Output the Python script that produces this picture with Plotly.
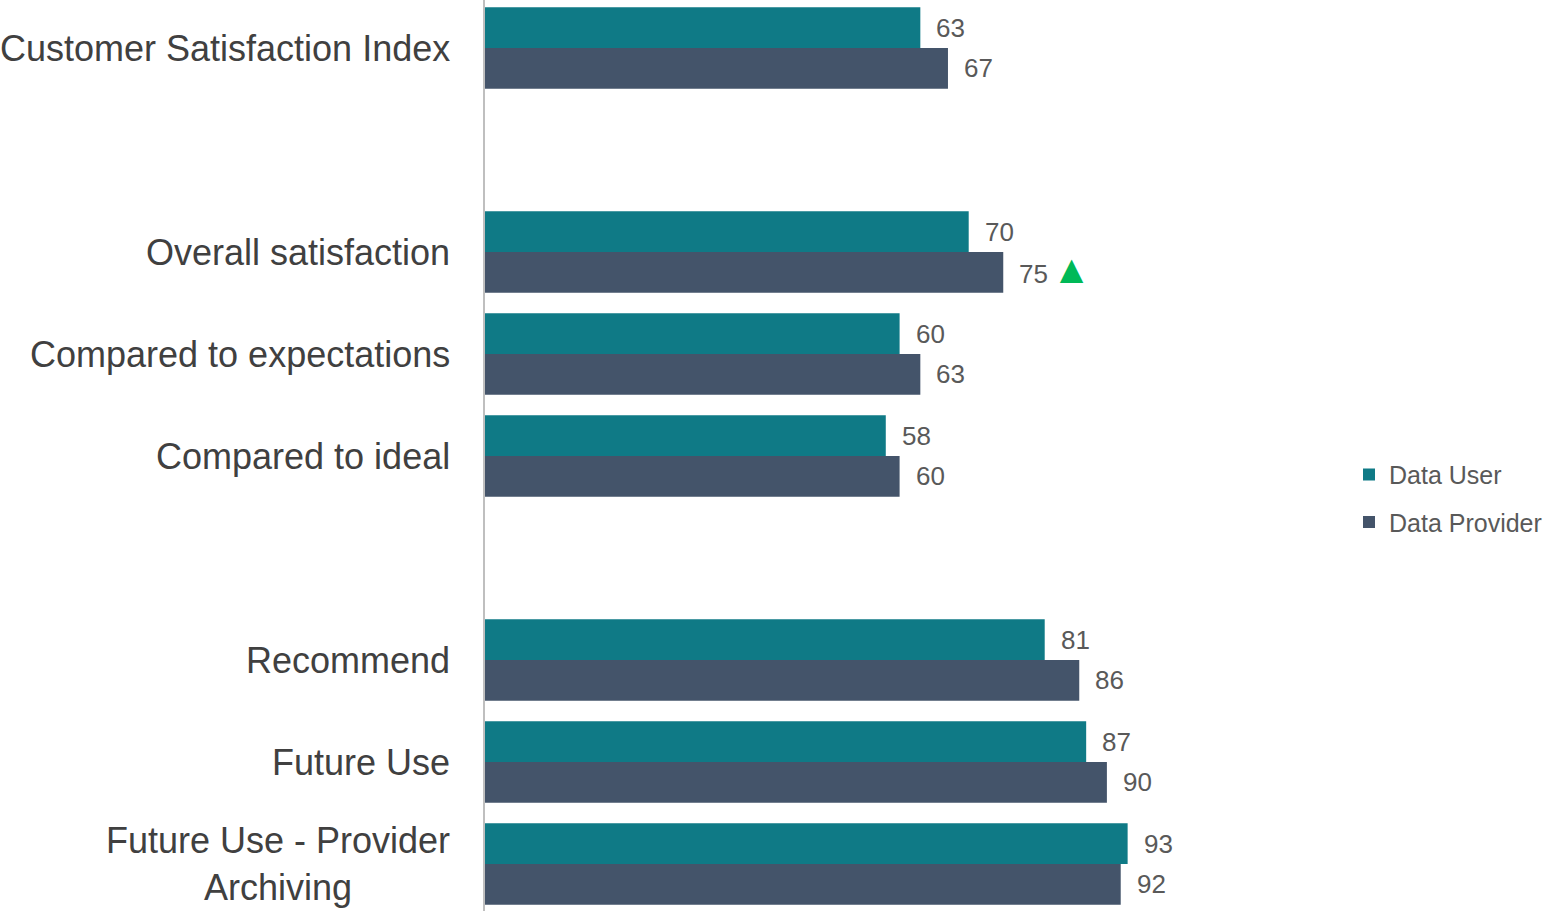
import plotly.graph_objects as go

categories = ["Customer Satisfaction Index", " ", "Overall satisfaction",
              "Compared to expectations", "Compared to ideal", "  ",
              "Recommend", "Future Use", "Future Use - Provider<br>Archiving"]
bar_categories = ["Customer Satisfaction Index", "Overall satisfaction",
                  "Compared to expectations", "Compared to ideal",
                  "Recommend", "Future Use", "Future Use - Provider<br>Archiving"]
data_user = [63, 70, 60, 58, 81, 87, 93]
data_provider = [67, 75, 63, 60, 86, 90, 92]
provider_flags = ["", "up", "", "", "", "", ""]

USER_COLOR = "#0F7A86"
PROV_COLOR = "#44546A"
FONT = "Liberation Sans, Arial, sans-serif"

fig = go.Figure()
fig.add_trace(go.Bar(y=bar_categories, x=data_user, orientation="h", name="Data User",
                     marker=dict(color=USER_COLOR, line=dict(width=0)),
                     legendgroup="u", hoverinfo="x+y"))
fig.add_trace(go.Bar(y=bar_categories, x=data_provider, orientation="h", name="Data Provider",
                     marker=dict(color=PROV_COLOR, line=dict(width=0)),
                     legendgroup="p", hoverinfo="x+y"))

annotations = []
for cat in [c for c in categories if c.strip()]:
    annotations.append(dict(x=0, xref="paper", y=cat, yref="y", text=cat,
                            xanchor="right", yanchor="middle", xshift=-33,
                            align="center", showarrow=False,
                            font=dict(family=FONT, size=36, color="#404040")))
for cat, v in zip(bar_categories, data_user):
    annotations.append(dict(x=v, y=cat, text=str(v), xanchor="left", yanchor="middle",
                            xshift=14, yshift=20, showarrow=False,
                            font=dict(family=FONT, size=26, color="#595959")))
for cat, v, f in zip(bar_categories, data_provider, provider_flags):
    txt = str(v)
    ys = -20
    if f == "up":
        txt += ("<span style='font-size:14px'> </span>"
                "<span style='color:#00B957;font-size:40px'>▲</span>")
        ys = -17
    annotations.append(dict(x=v, y=cat, text=txt, xanchor="left", yanchor="middle",
                            xshift=14, yshift=ys, showarrow=False,
                            font=dict(family=FONT, size=26, color="#595959")))

fig.update_layout(
    width=1547, height=911,
    margin=dict(l=485, r=371, t=0, b=0, autoexpand=False),
    paper_bgcolor="white", plot_bgcolor="white",
    barmode="group", bargap=0.2, bargroupgap=0,
    xaxis=dict(range=[0, 100], showgrid=False, zeroline=False, showticklabels=False,
               showline=False, fixedrange=True),
    yaxis=dict(type="category", categoryorder="array", categoryarray=categories,
               range=[8.4608, -0.4706], showgrid=False, zeroline=False,
               showticklabels=False, showline=True, linecolor="#BFBFBF", linewidth=2,
               ticks="", fixedrange=True),
    showlegend=True,
    legend=dict(x=1349 / 1547, xref="container", xanchor="left",
                y=0.453, yref="container", yanchor="middle",
                traceorder="grouped", tracegroupgap=12,
                font=dict(family=FONT, size=25, color="#595959"),
                bgcolor="rgba(0,0,0,0)"),
    annotations=annotations,
    font=dict(family=FONT),
)

fig.write_html("out.html")
